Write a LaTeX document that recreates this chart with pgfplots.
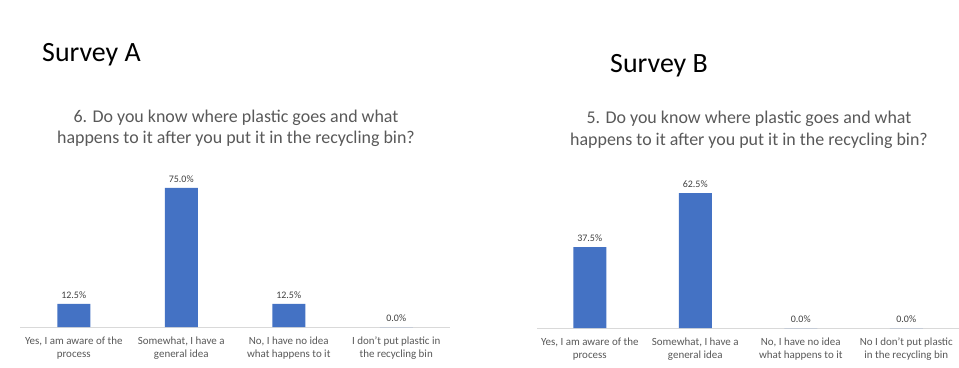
\documentclass[border=0pt]{standalone}
\usepackage{pgfplots}
\pgfplotsset{compat=1.18}
\usepackage{fontspec}
\setmainfont{Carlito}
\definecolor{barblue}{HTML}{4472C4}
\definecolor{txtgray}{HTML}{595959}
\definecolor{lblgray}{HTML}{404040}
\definecolor{axgray}{HTML}{D9D9D9}
\pgfplotsset{
  surv/.style={
    ybar, scale only axis, bar width=33bp,
    xmin=-0.5, xmax=3.5, ymin=0,
    axis y line=none, axis x line*=bottom,
    x axis line style={axgray, line width=0.8bp, -},
    xtick={0,1,2,3}, major tick length=0pt, xtick style={draw=none},
    xticklabel style={align=center, font=\fontsize{11}{13.5}\selectfont, text=txtgray, yshift=-6bp},
    nodes near coords={\pgfmathprintnumber[fixed,fixed zerofill,precision=1,assume math mode=true]{\pgfplotspointmeta}\%},
    every node near coord/.append style={font=\fontsize{10}{12}\selectfont, text=lblgray, yshift=2bp},
    clip=false, enlargelimits=false,
  }
}
\begin{document}
\begin{tikzpicture}[x=1bp,y=1bp]
\useasboundingbox (0,0) rectangle (959,367);
\fill[white] (0,0) rectangle (959,367);
\node[anchor=base west, inner sep=0, font=\fontsize{28}{32}\selectfont] at (42,306) {Survey A};
\node[anchor=base west, inner sep=0, font=\fontsize{28}{32}\selectfont] at (610,295) {Survey B};
\node[align=center, text=txtgray, font=\fontsize{18}{21}\selectfont] at (236,239) {6. Do you know where plastic goes and what\\happens to it after you put it in the recycling bin?};
\node[align=center, text=txtgray, font=\fontsize{18}{22}\selectfont] at (749,237) {5. Do you know where plastic goes and what\\happens to it after you put it in the recycling bin?};
\begin{axis}[surv, at={(20bp,40bp)}, anchor=south west, width=430bp, height=148.3bp, ymax=80,
  xticklabels={{Yes, I am aware of the\\process},{Somewhat, I have a\\general idea},{No, I have no idea\\what happens to it},{I don't put plastic in\\the recycling bin}}]
\addplot[fill=barblue, draw=none] coordinates {(0,12.5) (1,75.0) (2,12.5) (3,0.0)};
\end{axis}
\begin{axis}[surv, at={(537bp,39bp)}, anchor=south west, width=422bp, height=151bp, ymax=70,
  xticklabels={{Yes, I am aware of the\\process},{Somewhat, I have a\\general idea},{No, I have no idea\\what happens to it},{No I don't put plastic\\in the recycling bin}}]
\addplot[fill=barblue, draw=none] coordinates {(0,37.5) (1,62.5) (2,0.0) (3,0.0)};
\end{axis}
\end{tikzpicture}
\end{document}
